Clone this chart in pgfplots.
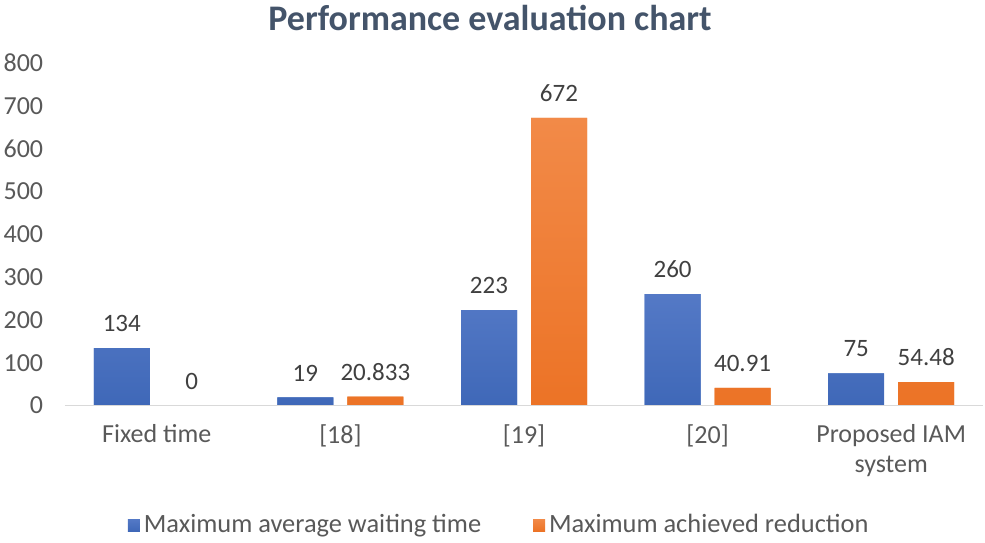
\documentclass[border=0pt]{standalone}
\usepackage{pgfplots}
\pgfplotsset{compat=1.18}
\usepackage{fontspec}
\setmainfont{Carlito}
\definecolor{barblue}{HTML}{4472C4}
\definecolor{barblueT}{HTML}{5479C6}
\definecolor{barblueB}{HTML}{3F68B8}
\definecolor{barorange}{HTML}{ED7D31}
\definecolor{barorangeT}{HTML}{F28A48}
\definecolor{barorangeB}{HTML}{EC7326}
\definecolor{titlecol}{HTML}{44546A}
\definecolor{txt}{HTML}{595959}
\definecolor{lbl}{HTML}{404040}
\begin{document}
\begin{tikzpicture}
\useasboundingbox (-32.5pt,-68.25pt) rectangle (460pt,202.75pt);
\begin{axis}[
  scale only axis,
  width=459pt, height=171.25pt,
  xmin=-0.5, xmax=4.5,
  ymin=0, ymax=800,
  ytick={0,100,...,800},
  xtick={0,1,2,3,4},
  xticklabels={Fixed time,{[18]},{[19]},{[20]},{Proposed IAM\\system}},
  major tick length=0pt,
  axis line style={draw=none},
  ybar=7pt, bar width=28pt,
  tick label style={font=\fontsize{13}{15}\selectfont, text=txt},
  /pgf/number format/assume math mode=true,
  yticklabel style={anchor=east, xshift=-7.4pt},
  xticklabel style={align=center, anchor=north, yshift=-6pt},
  title={\bfseries Performance evaluation chart},
  title style={font=\fontsize{18}{20}\selectfont, text=titlecol, at={(0.463,1)}, anchor=center, yshift=16.5pt},
  nodes near coords,
  point meta=explicit symbolic,
  every node near coord/.append style={font=\fontsize{12.5}{14}\selectfont, text=lbl, anchor=south, yshift=4.6pt},
  legend columns=2,
  legend style={at={(0.474,-0.349)}, anchor=center, draw=none, fill=none,
    font=\fontsize{13.2}{15}\selectfont, text=txt,
    /tikz/every even column/.append style={column sep=24pt}},
  legend image code/.code={\fill[#1] (0pt,-3pt) rectangle (6pt,3pt);},
]
\addplot[draw=none, top color=barblueT, bottom color=barblueB, fill=barblue] coordinates {
  (0,134) [134]
  (1,19) [19]
  (2,223) [223]
  (3,260) [260]
  (4,75) [75]
};
\addplot[draw=none, top color=barorangeT, bottom color=barorangeB, fill=barorange] coordinates {
  (0,0) [0]
  (1,20.833) [20.833]
  (2,672) [672]
  (3,40.91) [40.91]
  (4,54.48) [54.48]
};
\legend{Maximum average waiting time, Maximum achieved reduction}
\draw[gray!30, line width=0.6pt] (rel axis cs:0,0) -- (rel axis cs:1,0);
\end{axis}
\end{tikzpicture}
\end{document}
